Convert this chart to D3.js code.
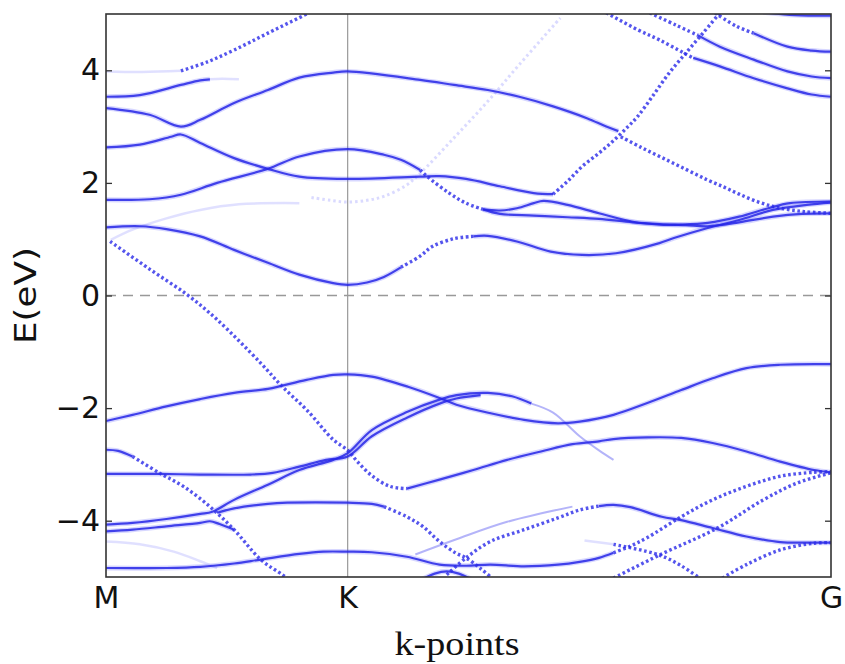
<!DOCTYPE html>
<html>
<head>
<meta charset="utf-8">
<script src="https://d3js.org/d3.v7.min.js"></script>
<style>
  body { margin: 0; background: #fff; }
  .tick text { font-family: "DejaVu Sans", sans-serif; font-size: 30px; fill: #111; }
</style>
</head>
<body>
<div id="chart"></div>
<script>
// k-path: M = 0, K = 1, G = 3 ; energies in eV

var kTicks = [0, 1, 3];
var kLabels = ["M", "K", "G"];
var eTicks = [-4, -2, 0, 2, 4];

// ---- bands above the gap ----
var bandU1faint = [[0, 3.98], [0.15, 3.97], [0.31, 3.99]];
var bandU1 = [[0.31, 3.99], [0.42, 4.15], [0.53, 4.36], [0.67, 4.66], [0.84, 5.02]];
var bandU2 = [[0, 3.53], [0.14, 3.56], [0.31, 3.74], [0.39, 3.82], [0.43, 3.84]];
var bandU2fade = [[0.43, 3.84], [0.48, 3.85], [0.55, 3.84]];
var bandU3 = [[0, 3.33], [0.18, 3.21], [0.31, 3.0], [0.39, 3.12], [0.53, 3.42], [0.67, 3.65], [0.80, 3.87],
  [0.94, 3.96], [1.0, 3.98], [1.30, 3.83], [1.44, 3.74], [1.58, 3.65], [1.71, 3.53], [1.85, 3.36], [1.99, 3.15],
  [2.07, 3.0], [2.12, 2.92]];
var bandU4 = [[0, 2.63], [0.14, 2.68], [0.27, 2.82], [0.31, 2.86], [0.39, 2.71], [0.53, 2.44], [0.67, 2.25],
  [0.80, 2.11], [1.0, 2.07], [1.30, 2.11], [1.38, 2.12], [1.49, 2.07], [1.63, 1.94], [1.77, 1.82], [1.85, 1.80]];
var bandU4steep = [[1.85, 1.80], [1.91, 2.03], [1.97, 2.29], [2.04, 2.53], [2.10, 2.75], [2.16, 3.0], [2.20, 3.18],
  [2.26, 3.53], [2.33, 3.95], [2.40, 4.31], [2.47, 4.66], [2.54, 5.02]];
var bandU5 = [[2.13, 2.82], [2.21, 2.64], [2.30, 2.45], [2.40, 2.24], [2.49, 2.05], [2.56, 1.92], [2.62, 1.80],
  [2.70, 1.66], [2.78, 1.56], [2.89, 1.49], [3.0, 1.46]];
var bandU6a = [[0, 1.70], [0.18, 1.71], [0.31, 1.79], [0.46, 2.0], [0.67, 2.25], [0.80, 2.47], [1.0, 2.6],
  [1.15, 2.50], [1.22, 2.41], [1.30, 2.23]];
var bandU6b = [[1.30, 2.23], [1.33, 2.11], [1.42, 1.82], [1.49, 1.64], [1.56, 1.53]];
var bandU6c = [[1.56, 1.53], [1.63, 1.51], [1.70, 1.55], [1.77, 1.64], [1.81, 1.68], [1.91, 1.61], [2.04, 1.46],
  [2.18, 1.31], [2.29, 1.26], [2.38, 1.26], [2.49, 1.29], [2.62, 1.40], [2.74, 1.55], [2.83, 1.64], [3.0, 1.67]];
var bandU7 = [[1.56, 1.53], [1.63, 1.45], [1.77, 1.42], [1.91, 1.39], [2.04, 1.36], [2.18, 1.30], [2.29, 1.27],
  [2.40, 1.25], [2.49, 1.23], [2.62, 1.30], [2.76, 1.40], [2.88, 1.45], [3.0, 1.46]];
var bandU8a = [[0, 1.21], [0.14, 1.23], [0.25, 1.18], [0.39, 1.05], [0.53, 0.81], [0.67, 0.58], [0.80, 0.37],
  [0.94, 0.22], [1.0, 0.19], [1.08, 0.23], [1.15, 0.33], [1.22, 0.50]];
var bandU8b = [[1.22, 0.50], [1.30, 0.70], [1.35, 0.87], [1.44, 1.01], [1.52, 1.05]];
var bandU8c = [[1.52, 1.05], [1.58, 1.06], [1.70, 0.96], [1.84, 0.78], [1.97, 0.72], [2.11, 0.75], [2.29, 0.93],
  [2.35, 1.02], [2.49, 1.20], [2.62, 1.34], [2.76, 1.52], [2.90, 1.61], [3.0, 1.65]];
var faintA = [[0.02, 0.99], [0.11, 1.17], [0.25, 1.37], [0.39, 1.52], [0.55, 1.62], [0.80, 1.64]];
var faintB = [[0.85, 1.74], [0.93, 1.69], [1.0, 1.66], [1.08, 1.69], [1.15, 1.76], [1.24, 1.95], [1.30, 2.17],
  [1.44, 2.80], [1.58, 3.45], [1.71, 4.10], [1.88, 4.93]];
var bandR1a = [[2.07, 5.02], [2.20, 4.72], [2.29, 4.54], [2.39, 4.31], [2.43, 4.22]];
var bandR1b = [[2.43, 4.22], [2.54, 4.07], [2.68, 3.86], [2.82, 3.68], [2.92, 3.57], [3.0, 3.53]];
var bandR2a = [[2.25, 5.02], [2.36, 4.80], [2.45, 4.62]];
var bandR2b = [[2.45, 4.62], [2.54, 4.42], [2.68, 4.19], [2.82, 3.98], [2.92, 3.89], [3.0, 3.86]];
var bandR3a = [[2.52, 5.02], [2.61, 4.78], [2.68, 4.66]];
var bandR3b = [[2.68, 4.66], [2.82, 4.42], [2.92, 4.35], [3.0, 4.33]];
var bandR4 = [[2.72, 5.03], [2.85, 4.98], [3.0, 4.97]];

// ---- bands below the gap ----
var bandD1a = [[0.017, 0.96], [0.18, 0.47], [0.34, 0.0], [0.46, -0.43], [0.64, -1.20], [0.73, -1.62],
  [0.83, -2.03], [0.94, -2.56], [1.0, -2.75], [1.04, -2.95], [1.10, -3.20], [1.175, -3.39], [1.245, -3.43]];
var bandD1b = [[1.245, -3.43], [1.38, -3.27], [1.52, -3.10], [1.66, -2.92], [1.80, -2.77], [1.93, -2.64],
  [2.04, -2.59], [2.10, -2.55], [2.24, -2.52], [2.38, -2.53], [2.51, -2.62], [2.65, -2.77], [2.79, -2.95],
  [2.93, -3.10], [3.0, -3.14]];
var bandD2 = [[0, -2.23], [0.11, -2.12], [0.25, -1.97], [0.39, -1.84], [0.53, -1.73], [0.67, -1.66],
  [0.73, -1.60], [0.83, -1.50], [0.94, -1.41], [1.0, -1.40], [1.10, -1.44], [1.25, -1.62], [1.38, -1.82],
  [1.45, -1.94], [1.59, -2.09], [1.73, -2.21], [1.87, -2.27], [1.96, -2.24], [2.10, -2.12], [2.24, -1.91],
  [2.38, -1.68], [2.51, -1.47], [2.65, -1.29], [2.79, -1.23], [3.0, -1.22]];
var bandD3a = [[0, -2.74], [0.05, -2.76], [0.11, -2.86]];
var bandD3b = [[0.11, -2.86], [0.22, -3.15], [0.32, -3.39], [0.43, -3.75], [0.53, -4.16], [0.64, -4.69],
  [0.73, -4.96], [0.76, -5.06]];
var bandD4 = [[0, -3.17], [0.22, -3.17], [0.39, -3.18], [0.60, -3.18], [0.69, -3.15], [0.80, -3.04],
  [0.91, -2.92], [1.0, -2.86], [1.10, -2.50], [1.245, -2.17], [1.38, -1.92], [1.45, -1.83], [1.55, -1.77]];
var bandD5 = [[0, -4.07], [0.11, -4.04], [0.25, -3.97], [0.39, -3.88], [0.44, -3.84], [0.53, -3.63],
  [0.67, -3.36], [0.80, -3.10], [0.94, -2.92], [1.0, -2.80], [1.10, -2.39], [1.245, -2.07], [1.38, -1.85],
  [1.45, -1.77], [1.58, -1.73], [1.68, -1.79], [1.76, -1.92]];
var bandD5fade = [[1.76, -1.92], [1.85, -2.08], [1.96, -2.50], [2.04, -2.75], [2.10, -2.92]];
var bandD6 = [[0, -4.19], [0.11, -4.16], [0.25, -4.10], [0.39, -4.04], [0.43, -4.01], [0.47, -4.06], [0.53, -4.16]];
var bandD7a = [[0.46, -3.86], [0.53, -3.78], [0.67, -3.70], [0.75, -3.68], [1.0, -3.68], [1.10, -3.70], [1.15, -3.75]];
var bandD7b = [[1.15, -3.75], [1.245, -3.93], [1.31, -4.10], [1.38, -4.37], [1.45, -4.58], [1.49, -4.66],
  [1.55, -4.85], [1.60, -5.03]];
var bandD8a = [[0, -4.84], [0.25, -4.84], [0.39, -4.82], [0.53, -4.76], [0.64, -4.69], [0.80, -4.59],
  [0.90, -4.55], [1.0, -4.55], [1.10, -4.56], [1.245, -4.64], [1.38, -4.78], [1.49, -4.80], [1.59, -4.78],
  [1.73, -4.81], [1.87, -4.78], [1.96, -4.73], [2.04, -4.66], [2.10, -4.57]];
var bandD8b = [[2.10, -4.57], [2.17, -4.45], [2.24, -4.30], [2.38, -3.93], [2.51, -3.63], [2.65, -3.39],
  [2.79, -3.21], [2.93, -3.14], [3.0, -3.13]];
var bandD9a = [[1.41, -4.96], [1.49, -4.66], [1.59, -4.37], [1.73, -4.16], [1.87, -3.95], [1.96, -3.81], [2.04, -3.74]];
var bandD9b = [[2.04, -3.74], [2.10, -3.72], [2.17, -3.76], [2.30, -3.93], [2.38, -3.99], [2.51, -4.13],
  [2.65, -4.28], [2.79, -4.38], [2.90, -4.39], [3.0, -4.39]];
var bandD10 = [[2.10, -5.02], [2.29, -4.61], [2.53, -4.13], [2.72, -3.63], [2.86, -3.33], [3.0, -3.15]];
var bandD11faint = [[1.98, -4.35], [2.10, -4.42]];
var bandD11 = [[2.10, -4.42], [2.29, -4.61], [2.38, -4.80], [2.46, -5.03]];
var bandD12 = [[2.55, -5.02], [2.65, -4.78], [2.79, -4.52], [2.93, -4.40], [3.0, -4.39]];
var bandArc = [[1.30, -5.06], [1.36, -4.94], [1.41, -4.90], [1.46, -4.94], [1.52, -5.06]];
var faintC = [[1.28, -4.60], [1.45, -4.33], [1.66, -4.02], [1.93, -3.75]];
var faintD = [[0, -4.37], [0.14, -4.42], [0.28, -4.55], [0.39, -4.72], [0.46, -4.84]];

// which look each band gets
var solidBands = [bandU2, bandU3, bandU4, bandU6a, bandU6c, bandU7, bandU8a, bandU8c, bandR1b, bandR2b,
  bandR3b, bandR4, bandD1b, bandD2, bandD3a, bandD4, bandD5, bandD6, bandD7a, bandD8a, bandD9b, bandArc];
var dottedBands = [bandU1, bandU4steep, bandU5, bandU6b, bandU8b, bandR1a, bandR2a, bandR3a, bandD1a,
  bandD3b, bandD7b, bandD8b, bandD9a, bandD10, bandD11, bandD12];
var faintBands = [bandU1faint, bandU2fade, faintA, faintD, bandD11faint];
var faintDotted = [faintB];
var halfBands = [bandD5fade, faintC];

var svgWidth = 845;
var svgHeight = 664;
var margin = { top: 14, right: 14, bottom: 87, left: 106 };
var width = svgWidth - margin.left - margin.right;
var height = svgHeight - margin.top - margin.bottom;

var svg = d3.select("#chart")
  .append("svg")
  .attr("width", svgWidth)
  .attr("height", svgHeight);

var chartGroup = svg.append("g")
  .attr("transform", `translate(${margin.left}, ${margin.top})`);

var xScale = d3.scaleLinear().domain([0, 3]).range([0, width]);
var yScale = d3.scaleLinear().domain([-5, 5]).range([height, 0]);

chartGroup.append("clipPath")
  .attr("id", "plotClip")
  .append("rect")
  .attr("width", width)
  .attr("height", height);

// K line and Fermi level
chartGroup.append("line")
  .attr("x1", xScale(1)).attr("x2", xScale(1))
  .attr("y1", 0).attr("y2", height)
  .attr("stroke", "#999").attr("stroke-width", 1.2);

chartGroup.append("line")
  .attr("x1", 0).attr("x2", width)
  .attr("y1", yScale(0)).attr("y2", yScale(0))
  .attr("stroke", "#999").attr("stroke-width", 1.6)
  .attr("stroke-dasharray", "10 7");

var bandLine = d3.line()
  .x(d => xScale(d[0]))
  .y(d => yScale(d[1]))
  .curve(d3.curveCatmullRom.alpha(0.5));

var bandsGroup = chartGroup.append("g").attr("clip-path", "url(#plotClip)");

// faint ghost bands
bandsGroup.selectAll(".faint")
  .data(faintBands)
  .enter()
  .append("path")
  .attr("d", bandLine)
  .attr("fill", "none")
  .attr("stroke", "#5555ff")
  .attr("stroke-width", 2.5)
  .attr("stroke-opacity", 0.18);

bandsGroup.selectAll(".faintDot")
  .data(faintDotted)
  .enter()
  .append("path")
  .attr("d", bandLine)
  .attr("fill", "none")
  .attr("stroke", "#5555ff")
  .attr("stroke-width", 3)
  .attr("stroke-dasharray", "2.5 3")
  .attr("stroke-opacity", 0.22);

bandsGroup.selectAll(".half")
  .data(halfBands)
  .enter()
  .append("path")
  .attr("d", bandLine)
  .attr("fill", "none")
  .attr("stroke", "#4444f0")
  .attr("stroke-width", 2)
  .attr("stroke-opacity", 0.4);

// solid bands: soft halo + core
bandsGroup.selectAll(".halo")
  .data(solidBands)
  .enter()
  .append("path")
  .attr("d", bandLine)
  .attr("fill", "none")
  .attr("stroke", "#4a4aff")
  .attr("stroke-width", 5)
  .attr("stroke-opacity", 0.22);

bandsGroup.selectAll(".solid")
  .data(solidBands)
  .enter()
  .append("path")
  .attr("d", bandLine)
  .attr("fill", "none")
  .attr("stroke", "#2626e6")
  .attr("stroke-width", 2.2)
  .attr("stroke-opacity", 0.85);

// dotted (weakly weighted) bands
bandsGroup.selectAll(".dotted")
  .data(dottedBands)
  .enter()
  .append("path")
  .attr("d", bandLine)
  .attr("fill", "none")
  .attr("stroke", "#2a2ae8")
  .attr("stroke-width", 3.4)
  .attr("stroke-dasharray", "2.6 2.6")
  .attr("stroke-opacity", 0.8);

// axes
var leftAxis = d3.axisLeft(yScale)
  .tickValues(eTicks)
  .tickSize(-6)
  .tickPadding(6);

var rightAxis = d3.axisRight(yScale)
  .tickValues(eTicks)
  .tickSize(-6)
  .tickFormat("");

var bottomAxis = d3.axisBottom(xScale)
  .tickValues(kTicks)
  .tickSize(0)
  .tickPadding(10)
  .tickFormat((d, i) => kLabels[i]);

var yAxis = chartGroup.append("g").call(leftAxis);
yAxis.select(".domain").remove();
yAxis.selectAll(".tick line").attr("stroke", "#333").attr("stroke-width", 1.3);

var yAxisRight = chartGroup.append("g")
  .attr("transform", `translate(${width}, 0)`)
  .call(rightAxis);
yAxisRight.select(".domain").remove();
yAxisRight.selectAll(".tick line").attr("stroke", "#333").attr("stroke-width", 1.3);

var xAxis = chartGroup.append("g")
  .attr("transform", `translate(0, ${height})`)
  .call(bottomAxis);
xAxis.select(".domain").remove();

// frame
chartGroup.append("rect")
  .attr("width", width)
  .attr("height", height)
  .attr("fill", "none")
  .attr("stroke", "#333")
  .attr("stroke-width", 1.6);

// axis titles
svg.append("text")
  .attr("transform", `translate(36, ${margin.top + yScale(0)}) rotate(-90)`)
  .attr("text-anchor", "middle")
  .attr("font-family", "DejaVu Sans, sans-serif")
  .attr("font-size", 30)
  .attr("fill", "#111")
  .attr("textLength", 97)
  .attr("lengthAdjust", "spacingAndGlyphs")
  .text("E(eV)");

svg.append("text")
  .attr("x", 457)
  .attr("y", 655)
  .attr("text-anchor", "middle")
  .attr("font-family", "Liberation Serif, serif")
  .attr("font-size", 34)
  .attr("fill", "#111")
  .attr("textLength", 125)
  .attr("lengthAdjust", "spacingAndGlyphs")
  .text("k-points");
</script>
</body>
</html>
